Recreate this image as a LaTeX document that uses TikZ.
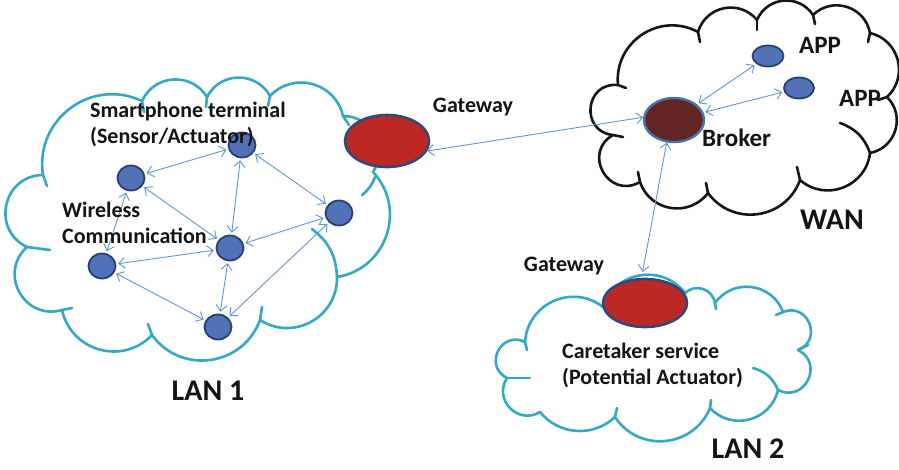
\documentclass[tikz,border=0pt]{standalone}
\usepackage{fontspec}
\setmainfont{Carlito}
\usetikzlibrary{arrows.meta,shapes.geometric}

\definecolor{lancol}{RGB}{52,168,196}
\definecolor{wancol}{RGB}{22,22,22}
\definecolor{gwfill}{RGB}{190,40,36}
\definecolor{gwedge}{RGB}{46,74,122}
\definecolor{devfill}{RGB}{82,114,184}
\definecolor{devedge}{RGB}{40,62,112}
\definecolor{brokerfill}{RGB}{99,37,35}
\definecolor{brokeredge}{RGB}{70,115,175}
\definecolor{linkcol}{RGB}{100,150,215}
\definecolor{txtcol}{RGB}{20,20,20}

\begin{document}
\begin{tikzpicture}[x=1pt,y=1pt,
  % cloud bumps: circular arcs of different depth
  puff/.style={bend left=62, looseness=1.16},
  smallpuff/.style={bend left=47, looseness=1.02},
  bigpuff/.style={bend left=77, looseness=1.39},
  halfpuff/.style={bend left=90, looseness=1.7},
  lancloud/.style={draw=lancol, line width=2.6pt, line join=round, line cap=round},
  wancloud/.style={draw=wancol, line width=2.6pt, line join=round, line cap=round},
  device/.style={ellipse, draw=devedge, fill=devfill, line width=1.8pt,
    inner sep=0pt, minimum width=27pt, minimum height=25pt},
  gatewaydisc/.style={ellipse, draw=gwedge, fill=gwfill, line width=2.6pt,
    inner sep=0pt, minimum width=84pt, minimum height=52pt},
  brokerdisc/.style={ellipse, draw=brokeredge, fill=brokerfill, line width=2.4pt,
    inner sep=0pt, minimum width=60pt, minimum height=44pt},
  appdisc/.style={ellipse, draw=devedge, fill=devfill, line width=1.8pt,
    inner sep=0pt, minimum width=31pt, minimum height=21pt},
  link/.style={draw=linkcol, line width=0.9pt,
    {Straight Barb[length=6pt,width=11pt]}-{Straight Barb[length=6pt,width=11pt]},
    shorten >=2pt, shorten <=2pt},
  txtsmall/.style={text=txtcol, inner sep=0pt, font=\bfseries\fontsize{22}{26}\selectfont},
  txtmid/.style={text=txtcol, inner sep=0pt, font=\bfseries\fontsize{25}{30}\selectfont},
  txtbig/.style={text=txtcol, inner sep=0pt, font=\bfseries\fontsize{30}{34}\selectfont}
]
\fill[white] (0,0) rectangle (899,-469);
\useasboundingbox (0,0) rectangle (899,-469);

% ---- LAN 1 cloud ----
\draw[lancloud] (43,-175) to[puff] (142,-101) to[puff] (207,-97) to[puff] (270,-96)
  to[puff] (343,-116) to[puff] (373,-172) to[puff] (337,-277) to[puff] (260,-320)
  to[puff] (152,-335) to[puff] (62,-310) to[bigpuff] (27,-247) to[bigpuff] (43,-175);
\draw[lancloud] (43,-175) -- (47,-186);
\draw[lancloud] (142,-101) -- (144,-112);
\draw[lancloud] (207,-97) -- (206,-107);
\draw[lancloud] (270,-96) -- (268,-106);
\draw[lancloud] (343,-116) -- (349,-125);
\draw[lancloud] (375,-177) to[bend left=15] (362,-195);
\draw[lancloud] (337,-277) to[bend right=25] (312,-229);
\draw[lancloud] (260,-320) -- (262,-307);
\draw[lancloud] (152,-335) -- (148,-324);
\draw[lancloud] (62,-310) -- (72,-308);
\draw[lancloud] (27,-247) -- (50,-250);

% ---- WAN cloud ----
\draw[wancloud] (618,-85) to[puff] (698,-32) to[puff] (757,-20) to[puff] (813,-15)
  to[puff] (870,-33) to[puff] (887,-97) to[puff] (870,-153) to[puff] (800,-180)
  to[puff] (708,-193) to[puff] (640,-182) to[halfpuff] (613,-135) to[halfpuff] (618,-85);
\draw[wancloud] (618,-85) -- (626,-88);
\draw[wancloud] (698,-32) -- (700,-42);
\draw[wancloud] (757,-20) -- (757,-30);
\draw[wancloud] (813,-15) -- (815,-24);
\draw[wancloud] (870,-33) -- (868,-42);
\draw[wancloud] (887,-97) -- (878,-100);
\draw[wancloud] (870,-153) to[bend right=25] (840,-123);
\draw[wancloud] (800,-180) -- (797,-167);
\draw[wancloud] (708,-193) -- (706,-183);
\draw[wancloud] (640,-182) -- (638,-172);
\draw[wancloud] (613,-135) -- (623,-137);

% ---- LAN 2 cloud ----
\draw[lancloud] (603,-307) to[puff] (685,-293) to[puff] (715,-303) to[puff] (783,-312)
  to[halfpuff] (798,-350) to[halfpuff] (778,-390) to[puff] (710,-408) to[puff] (615,-417)
  to[smallpuff] (540,-412) to[bigpuff] (507,-378) to[halfpuff] (525,-342) to[puff] (603,-307);
\draw[lancloud] (715,-303) -- (716,-309);
\draw[lancloud] (783,-312) -- (776,-315);
\draw[lancloud] (798,-350) -- (808,-345);
\draw[lancloud] (778,-390) to[bend right=25] (753,-368);
\draw[lancloud] (710,-408) -- (711,-400);
\draw[lancloud] (615,-417) -- (617,-408);
\draw[lancloud] (507,-378) -- (530,-378);
\draw[lancloud] (525,-342) -- (527,-350);

% ---- gateways, broker, terminals ----
\node[gatewaydisc] (gwA) at (387,-141) {};
\node[gatewaydisc, minimum height=48pt] (gwB) at (645,-303) {};
\node[brokerdisc] (broker) at (674,-120) {};
\node[appdisc] (app1) at (768,-56) {};
\node[appdisc, minimum width=30pt] (app2) at (799,-88) {};

\node[device] (n1) at (242,-145) {};
\node[device] (n2) at (131,-178) {};
\node[device] (n3) at (339,-213) {};
\node[device] (n4) at (230,-248) {};
\node[device] (n5) at (102,-266) {};
\node[device] (n6) at (218,-327) {};

% ---- wireless links ----
\draw[link] (n2) -- (n1);
\draw[link] (n1) -- (n4);
\draw[link] (n1) -- (n3);
\draw[link] (n2) -- (n4);
\draw[link] (n2) -- (n5);
\draw[link] (n4) -- (n5);
\draw[link] (n3) -- (n4);
\draw[link] (n5) -- (n6);
\draw[link] (n4) -- (n6);
\draw[link] (n3) -- (n6);

\draw[link, shorten <=0pt, shorten >=0pt] (gwA.-14) -- (broker.175);
\draw[link] (broker) -- (app1);
\draw[link] (broker) -- (app2);
\draw[link, shorten <=0pt, shorten >=6pt] (broker.-108) -- (gwB.98);

% ---- labels ----
\node[txtsmall, anchor=west, align=left] (tSmart) at (90,-124) {Smartphone terminal\\(Sensor/Actuator)};
\node[txtsmall, anchor=west, align=left] (tWire) at (62,-223) {Wireless\\Communication};
\node[txtsmall] (tGwA) at (473,-107) {Gateway};
\node[txtsmall] (tGwB) at (564,-266) {Gateway};
\node[txtsmall, anchor=west, align=left] (tCare) at (562,-365) {Caretaker service\\(Potential Actuator)};
\node[txtmid, anchor=west] (tBroker) at (702,-138) {Broker};
\node[txtmid] (tApp1) at (820,-45) {APP};
\node[txtmid] (tApp2) at (860,-98) {APP};
\node[txtbig] (tWan) at (832,-220) {WAN};
\node[txtbig] (tLan1) at (208,-391) {LAN 1};
\node[txtbig] (tLan2) at (748,-449) {LAN 2};
\end{tikzpicture}
\end{document}
